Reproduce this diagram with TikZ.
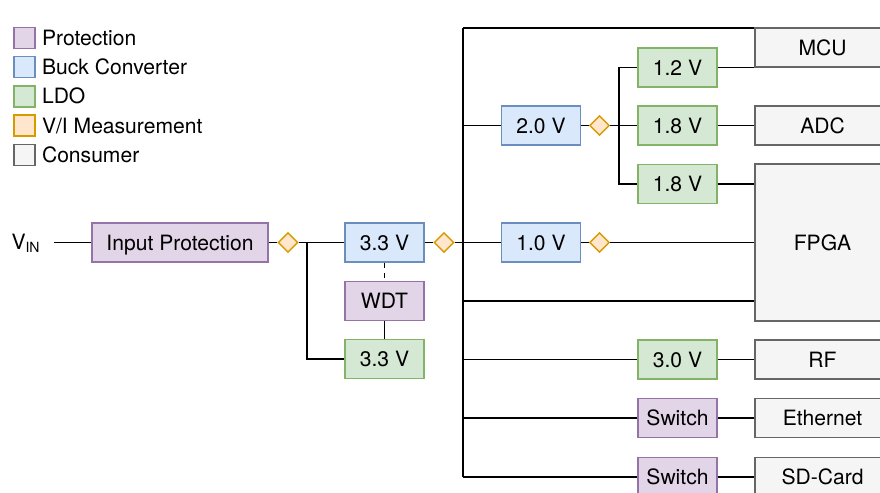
\documentclass[tikz,border=0pt]{standalone}
\usepackage{fontspec}
\setmainfont{TeX Gyre Heros}
\usepackage{xcolor}
\usetikzlibrary{shapes.geometric,positioning}
\definecolor{protfill}{HTML}{E1D5E7}
\definecolor{protline}{HTML}{9673A6}
\definecolor{buckfill}{HTML}{DAE8FC}
\definecolor{buckline}{HTML}{6C8EBF}
\definecolor{ldofill}{HTML}{D5E8D4}
\definecolor{ldoline}{HTML}{82B366}
\definecolor{measfill}{HTML}{FFE6CC}
\definecolor{measline}{HTML}{D79B00}
\definecolor{consfill}{HTML}{F5F5F5}
\definecolor{consline}{HTML}{666666}
\tikzset{
  blk/.style={rectangle,inner sep=0pt,line width=0.7pt,minimum width=1.58cm,minimum height=0.78cm,
    text height=8.6pt,text depth=0pt},
  prot/.style={blk,draw=protline,fill=protfill},
  buck/.style={blk,draw=buckline,fill=buckfill},
  ldo/.style={blk,draw=ldoline,fill=ldofill},
  cons/.style={blk,draw=consline,fill=consfill,minimum width=2.7cm},
  meas/.style={diamond,draw=measline,fill=measfill,inner sep=0pt,line width=0.8pt,
    minimum width=0.4cm,minimum height=0.4cm},
  wire/.style={line width=0.8pt}
}

\begin{document}
\begin{tikzpicture}[x=0.02cm,y=-0.02cm,font=\fontsize{12}{14}\selectfont]
\useasboundingbox (0,0) rectangle (880,493);
\clip (0,0) rectangle (880,493);
% legend
\foreach \f/\l/\t [count=\i from 0] in {protfill/protline/Protection,buckfill/buckline/Buck Converter,ldofill/ldoline/LDO,measfill/measline/{V/I Measurement},consfill/consline/Consumer}
{
\node[draw=\l,fill=\f,minimum size=0.42cm,inner sep=0pt,line width=0.8pt] (key\i) at (24.5,38+29.2*\i) {};
\node[right=0.12cm of key\i,inner sep=0pt,text height=8.6pt,text depth=0pt] (keytxt\i) {\t};
}
% input side
\node (vin) at (26,243) {V\textsubscript{IN}};
\coordinate (vin0) at (54,242.5);
\node[prot,minimum width=3.52cm] (ip) at (180,242.5) {Input Protection};
\node[meas] (mA) at (288,242.5) {};
\coordinate (j1) at (307,242.5);
\node[buck] (buckA) at (384.5,242.5) {3.3 V};
\node[prot] (wdt) at (384.5,301) {WDT};
\node[ldo] (ldoA) at (384.5,359) {3.3 V};
\node[meas] (mB) at (444,242.5) {};
% bus
\coordinate (bt) at (463,28);
\coordinate (bb) at (463,477);
\coordinate (f3) at (463,301);
\node[buck] (buckB) at (541,125.5) {2.0 V};
\node[meas] (mC) at (599.5,125.5) {};
\coordinate (j2) at (619,125.5);
\node[ldo] (ldoB) at (677.5,67.5) {1.2 V};
\node[ldo] (ldoC) at (677.5,125.5) {1.8 V};
\node[ldo] (ldoD) at (677.5,184) {1.8 V};
\node[buck] (buckC) at (541,242.5) {1.0 V};
\node[meas] (mD) at (599.5,242.5) {};
\node[ldo] (ldoE) at (677.5,359.5) {3.0 V};
\node[prot] (swA) at (677.5,418) {Switch};
\node[prot] (swB) at (677.5,477) {Switch};
% consumers
\node[cons] (mcu) at (822.5,47.5) {MCU};
\node[cons] (adc) at (822.5,125.5) {ADC};
\node[cons,minimum height=3.14cm] (fpga) at (822.5,242.5) {FPGA};
\node[cons] (rf) at (822.5,359.5) {RF};
\node[cons] (eth) at (822.5,418) {Ethernet};
\node[cons] (sd) at (822.5,477) {SD-Card};
% wiring
\draw[wire] (vin0) -- (ip);
\draw[wire] (ip) -- (mA);
\draw[wire] (mA) -- (buckA);
\draw[wire] (j1) |- (ldoA);
\draw[wire,dashed] (buckA) -- (wdt);
\draw[wire] (wdt) -- (ldoA);
\draw[wire] (buckA) -- (mB);
\draw[wire] (mB) -- (buckC);
\draw[wire] (bt) -- (bb);
\draw[wire] (bt) -- (bt -| mcu.west);
\draw[wire] (buckB -| bt) -- (buckB);
\draw[wire] (buckB) -- (mC);
\draw[wire] (mC) -- (ldoC);
\draw[wire] (j2) |- (ldoB);
\draw[wire] (j2) |- (ldoD);
\draw[wire] (ldoB) -- (ldoB -| mcu.west);
\draw[wire] (ldoC) -- (adc);
\draw[wire] (ldoD) -- (ldoD -| fpga.west);
\draw[wire] (buckC) -- (mD);
\draw[wire] (mD) -- (mD -| fpga.west);
\draw[wire] (f3) -- (f3 -| fpga.west);
\draw[wire] (ldoE -| bt) -- (ldoE);
\draw[wire] (ldoE) -- (rf);
\draw[wire] (swA -| bt) -- (swA);
\draw[wire] (swA) -- (eth);
\draw[wire] (bb) -- (swB);
\draw[wire] (swB) -- (sd);
\end{tikzpicture}
\end{document}
